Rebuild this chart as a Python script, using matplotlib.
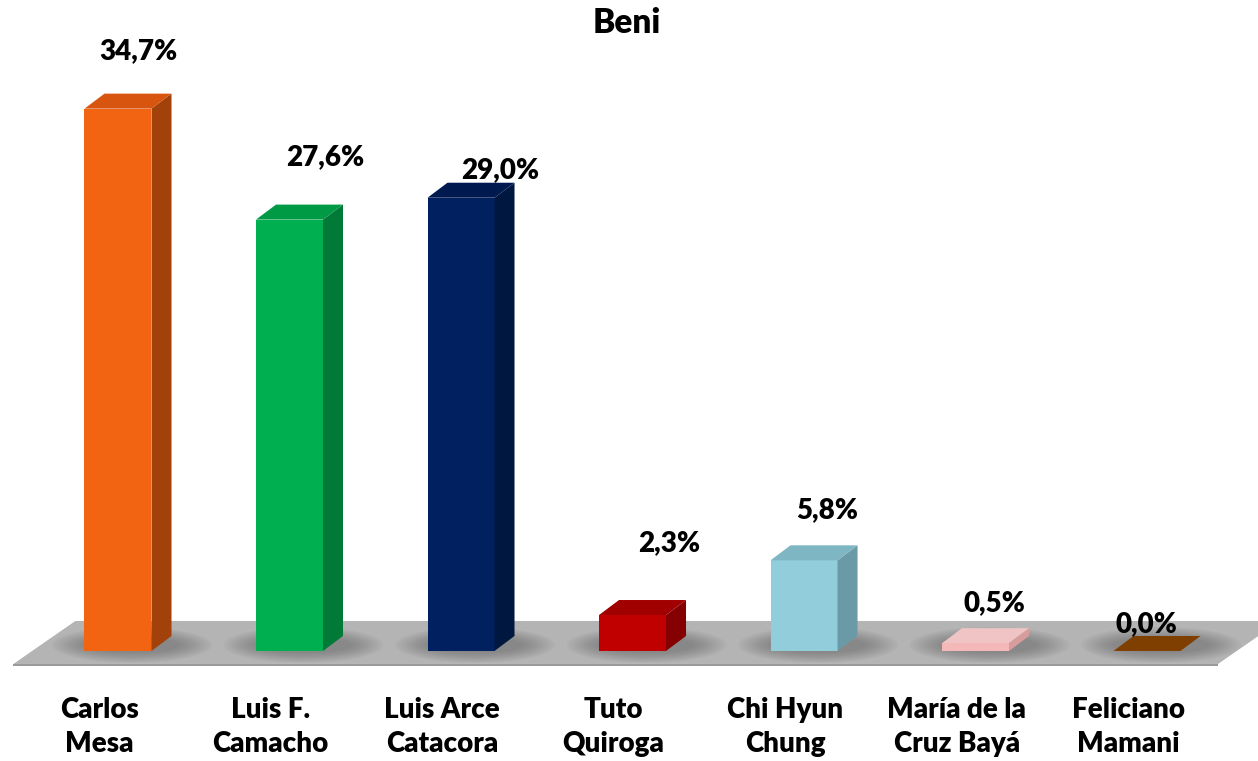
import numpy as np
import matplotlib.pyplot as plt
from matplotlib.patches import Polygon, Ellipse

candidatos = ["Carlos\nMesa", "Luis F.\nCamacho", "Luis Arce\nCatacora", "Tuto\nQuiroga",
              "Chi Hyun\nChung", "María de la\nCruz Bayá", "Feliciano\nMamani"]
valores = [34.7, 27.6, 29.0, 2.3, 5.8, 0.5, 0.0]
etiquetas = ["34,7%", "27,6%", "29,0%", "2,3%", "5,8%", "0,5%", "0,0%"]

# front, side, top colours
col_frente = ["#F26411", "#00B050", "#002060", "#C00000", "#92CDDC", "#F4B8B8", "#7F3F00"]
col_lado = ["#A3410A", "#007A36", "#001740", "#850000", "#6A9AA6", "#D89C9C", "#6A3400"]
col_techo = ["#D85510", "#009A45", "#00194F", "#A00000", "#7FB6C4", "#F0C4C4", "#7A3C00"]

# label offsets in pixels (manual placement like in the original)
lab_dx = [20, 36, 39, 37, 23, 19, -1]
lab_dy = [49, 54, 20, 64, 42, 32, 19]

fig = plt.figure(figsize=(12.58, 7.61), dpi=100)
ax = fig.add_axes([0, 0, 1, 1])
ax.set_xlim(-0.688, 6.647)
ax.set_ylim(-7.04, 41.65)
ax.axis("off")

px_x = 1 / 171.5   # data units per pixel
px_y = 1 / 15.63

# floor
fl_x0, fl_x1 = -0.61, 6.414
fl_dx, fl_dy = 62 * px_x, 43 * px_y
fl_y = -13 * px_y
ax.add_patch(Polygon([(fl_x0, fl_y), (fl_x1, fl_y), (fl_x1 + fl_dx, fl_y + fl_dy),
                      (fl_x0 + fl_dx, fl_y + fl_dy)], closed=True, fc="#B4B4B4", ec="none", zorder=1))
ax.add_patch(Polygon([(fl_x0, fl_y), (fl_x1, fl_y), (fl_x1, fl_y - 2 * px_y),
                      (fl_x0, fl_y - 2 * px_y)], closed=True, fc="#9A9A9A", ec="none", zorder=1))

hw = 33.5 * px_x
bdx, bdy = 20 * px_x, 15 * px_y

fuente = dict(fontsize=20, fontweight="heavy", family="Lato")

for i, v in enumerate(valores):
    x0, x1 = i - hw, i + hw
    h = max(v, 0.02)
    # soft shadow on floor
    for k in range(12):
        s = 1 - k / 12
        ax.add_patch(Ellipse((i + 14 * px_x, 6 * px_y), (90 + 70 * s) * px_x, (14 + 22 * s) * px_y,
                             fc="#555555", alpha=0.045, ec="none", zorder=2))
    if v > 0:
        ax.add_patch(Polygon([(x0, 0), (x1, 0), (x1, h), (x0, h)], closed=True,
                             fc=col_frente[i], ec="none", zorder=3))
        ax.add_patch(Polygon([(x1, 0), (x1 + bdx, bdy), (x1 + bdx, h + bdy), (x1, h)], closed=True,
                             fc=col_lado[i], ec="none", zorder=3))
        ax.add_patch(Polygon([(x0, h), (x1, h), (x1 + bdx, h + bdy), (x0 + bdx, h + bdy)], closed=True,
                             fc=col_techo[i], ec="none", zorder=3))
    else:
        ax.add_patch(Polygon([(x0, 0), (x1, 0), (x1 + bdx, bdy), (x0 + bdx, bdy)], closed=True,
                             fc=col_frente[i], ec="none", zorder=3))
    ax.annotate(etiquetas[i], (i, v), xytext=(lab_dx[i], lab_dy[i]), textcoords="offset pixels",
                ha="center", va="baseline", zorder=5, **fuente)
    ax.text(i - 0.11, -(697 - 651) * px_y, candidatos[i], ha="center", va="top",
            linespacing=1.4, zorder=5, **fuente)

ax.text(0.5 * (ax.get_xlim()[0] + ax.get_xlim()[1]) - 0.01, (651 - 33) * px_y, "Beni", ha="center",
        va="baseline", fontsize=24, fontweight="heavy", family="Lato")

fig.savefig("out.png", dpi=100)
